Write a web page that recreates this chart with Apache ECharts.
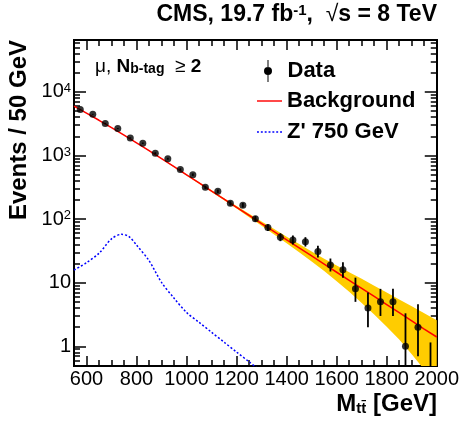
<!DOCTYPE html>
<html>
<head>
<meta charset="utf-8">
<script src="https://cdn.jsdelivr.net/npm/echarts@6/dist/echarts.min.js"></script>
<style>
html, body { margin: 0; padding: 0; background: #fff; }
#chart { width: 462px; height: 428px; }
</style>
</head>
<body>
<div id="chart"></div>
<script>
// data (bin centres, 50 GeV bins)
let massBins = [575, 625, 675, 725, 775, 825, 875, 925, 975, 1025, 1075, 1125, 1175, 1225, 1275,
    1325, 1375, 1425, 1475, 1525, 1575, 1625, 1675, 1725, 1775, 1825, 1875, 1925, 1975];
let dataCounts = [5300, 4450, 3200, 2650, 1890, 1560, 1090, 890, 605, 500, 316, 274, 177, 165, 101,
    74, 52, 47, 44, 31, 19, 16, 8, 4, 5, 5, 1, 2, 0];
let dataErrDown = [73, 67, 57, 51, 43, 39, 33, 30, 25, 22, 18, 17, 13, 13, 10,
    9, 7, 7, 7, 6, 4, 4, 3, 2, 2, 2, 0.83, 1.3, 0];
let dataErrUp = [73, 67, 57, 52, 44, 40, 34, 31, 25, 23, 19, 17, 14, 14, 11,
    9, 8, 8, 8, 7, 5, 5, 4, 3, 3, 3, 2.3, 2.6, 1.15];

// background fit and its uncertainty band
let bkgMass = [550, 600, 650, 700, 750, 800, 850, 900, 950, 1000, 1050, 1100, 1150, 1200, 1250,
    1300, 1350, 1400, 1450, 1500, 1550, 1600, 1650, 1700, 1750, 1800, 1850, 1900, 1950, 2000];
let bkgValues = [5957, 4634, 3581, 2748, 2094, 1585, 1193, 893, 667, 497, 370, 275, 205.6, 153.1, 114.3,
    85.1, 63.5, 47.3, 35.3, 26.3, 19.6, 14.6, 10.9, 8.13, 6.07, 4.52, 3.37, 2.51, 1.87, 1.40];
let bandLow = [5897, 4588, 3545, 2721, 2073, 1566, 1179, 880, 656, 487, 361, 267, 198.0, 146.2, 107.4,
    78.3, 57.2, 41.6, 30.0, 21.6, 15.3, 10.5, 7.19, 4.80, 3.16, 2.03, 1.28, 0.75, 0.43, 0.24];
let bandHigh = [6017, 4680, 3617, 2775, 2115, 1604, 1207, 906, 678, 507, 379, 283, 213.2, 160.0, 121.2,
    91.9, 69.9, 53.0, 40.6, 31.0, 23.9, 18.7, 14.6, 11.5, 8.98, 7.01, 5.46, 4.27, 3.31, 2.56];

// Z' 750 GeV signal shape
let zpMass = [550, 600, 650, 700, 740, 770, 800, 850, 900, 950, 1000, 1050, 1100, 1150, 1200, 1250, 1280];
let zpValues = [15.8, 20.6, 29, 49, 57.7, 53, 39, 22.2, 10.1, 5.7, 3.4, 2.38, 1.66, 1.16, 0.81, 0.57, 0.46];

// ticks
let xMajorTicks = [600, 800, 1000, 1200, 1400, 1600, 1800, 2000];
let xMinorTicks = [550, 600, 650, 700, 750, 800, 850, 900, 950, 1000, 1050, 1100, 1150, 1200, 1250, 1300,
    1350, 1400, 1450, 1500, 1550, 1600, 1650, 1700, 1750, 1800, 1850, 1900, 1950, 2000];
let yMajorTicks = [1, 10, 100, 1000, 10000];
let yMinorTicks = [0.5, 0.6, 0.7, 0.8, 0.9, 2, 3, 4, 5, 6, 7, 8, 9, 20, 30, 40, 50, 60, 70, 80, 90,
    200, 300, 400, 500, 600, 700, 800, 900, 2000, 3000, 4000, 5000, 6000, 7000, 8000, 9000,
    20000, 30000, 40000, 50000, 60000];

const xMin = 550, xMax = 2000;
const yMin = 0.49, yMax = 65500;
const FONT = 'Liberation Sans';

function xAxis(pos, ticks, len, labels) {
    return {
        type: 'value', gridIndex: 0, position: pos, min: xMin, max: xMax,
        axisLine: { show: true, onZero: false, lineStyle: { color: '#000', width: 2 } },
        axisTick: { show: true, inside: true, length: len, customValues: ticks, lineStyle: { color: '#000', width: 1.5 } },
        axisLabel: {
            show: labels, customValues: ticks, margin: 3, color: '#000', fontSize: 20, fontFamily: FONT,
            hideOverlap: false, showMaxLabel: true, showMinLabel: true,
            formatter: v => String(v)
        },
        splitLine: { show: false }
    };
}

function yAxis(pos, ticks, len, labels) {
    return {
        type: 'log', logBase: 10, gridIndex: 0, position: pos, min: yMin, max: yMax,
        axisLine: { show: true, onZero: false, lineStyle: { color: '#000', width: 2 } },
        axisTick: { show: true, inside: true, length: len, customValues: ticks, lineStyle: { color: '#000', width: 1.5 } },
        axisLabel: {
            show: labels, customValues: ticks, margin: 3, color: '#000', fontSize: 20, fontFamily: FONT,
            formatter: function (v) {
                if (v >= 100) return '{b|10}{s|' + Math.round(Math.log10(v)) + '}';
                return String(v);
            },
            rich: {
                b: { fontSize: 20, fontFamily: FONT, color: '#000', lineHeight: 20, padding: [4, 0, 0, 0], verticalAlign: 'bottom' },
                s: { fontSize: 13, fontFamily: FONT, color: '#000', lineHeight: 13, verticalAlign: 'top' }
            }
        },
        splitLine: { show: false }
    };
}

let dashIcon = 'path://M0,0 h2 v1.5 h-2 z M4,0 h2 v1.5 h-2 z M8,0 h2 v1.5 h-2 z M12,0 h2 v1.5 h-2 z '
    + 'M16,0 h2 v1.5 h-2 z M20,0 h2 v1.5 h-2 z M24,0 h2 v1.5 h-2 z';

let chart = echarts.init(document.getElementById('chart'));
chart.setOption({
    animation: false,
    backgroundColor: '#fff',
    grid: { left: 74, right: 24, top: 40, bottom: 62 },
    xAxis: [
        xAxis('bottom', xMajorTicks, 10, true),
        xAxis('bottom', xMinorTicks, 6, false),
        xAxis('top', xMajorTicks, 10, false),
        xAxis('top', xMinorTicks, 6, false)
    ],
    yAxis: [
        yAxis('left', yMajorTicks, 12, true),
        yAxis('left', yMinorTicks, 6, false),
        yAxis('right', yMajorTicks, 12, false),
        yAxis('right', yMinorTicks, 6, false)
    ],
    legend: [{
        orient: 'vertical', left: 264, top: 60, padding: 0, itemWidth: 9, itemHeight: 22,
        selectedMode: false,
        textStyle: { fontSize: 22, fontWeight: 'bold', fontFamily: FONT, color: '#000', padding: [0, 0, 0, 10] },
        data: [{ name: 'Data', icon: 'path://M4,0 H5 V22 H4 Z M0.5,11 A4,4 0 1 1 8.5,11 A4,4 0 1 1 0.5,11 Z' }]
    }, {
        orient: 'vertical', left: 257, top: 90, padding: 0, itemWidth: 25, itemHeight: 2, itemGap: 9,
        selectedMode: false,
        textStyle: { fontSize: 22, fontWeight: 'bold', fontFamily: FONT, color: '#000' },
        data: [
            { name: 'Background', icon: 'path://M0,0 H26 V1.5 H0 Z' },
            { name: "Z' 750 GeV", icon: dashIcon }
        ]
    }],
    graphic: [{
        type: 'text', x: 437, y: 3,
        style: {
            text: '{t|CMS, 19.7 fb}{s|-1}{t|,  }{r|\u221A}{t|s = 8 TeV}',
            align: 'right', verticalAlign: 'top',
            rich: {
                t: { fontSize: 23, fontWeight: 'bold', fontFamily: FONT, fill: '#000', lineHeight: 23, padding: [4, 0, 0, 0], verticalAlign: 'bottom' },
                r: { fontSize: 23, fontFamily: FONT, fill: '#000', lineHeight: 23, padding: [4, 0, 0, 0], verticalAlign: 'bottom' },
                s: { fontSize: 15, fontWeight: 'bold', fontFamily: FONT, fill: '#000', lineHeight: 15, verticalAlign: 'top' }
            }
        }
    }, {
        type: 'text', x: 95, y: 57,
        style: {
            text: '{m|\u03BC, }{b|N}{s|b-tag}{m|  \u2265 }{b|2}',
            align: 'left', verticalAlign: 'top',
            rich: {
                m: { fontSize: 19, fontFamily: FONT, fill: '#000', lineHeight: 19, verticalAlign: 'top' },
                b: { fontSize: 19, fontWeight: 'bold', fontFamily: FONT, fill: '#000', lineHeight: 19, verticalAlign: 'top' },
                s: { fontSize: 14, fontWeight: 'bold', fontFamily: FONT, fill: '#000', lineHeight: 14, padding: [10, 0, 0, 0], verticalAlign: 'bottom' }
            }
        }
    }, {
        type: 'text', x: 19, y: 40, rotation: Math.PI / 2,
        style: {
            text: 'Events / 50 GeV', align: 'right', verticalAlign: 'middle',
            fontSize: 24, fontWeight: 'bold', fontFamily: FONT, fill: '#000'
        }
    }, {
        type: 'text', x: 437, y: 392,
        style: {
            text: '{b|M}{s|tt\u0304}{b| [GeV]}',
            align: 'right', verticalAlign: 'top',
            rich: {
                b: { fontSize: 24, fontWeight: 'bold', fontFamily: FONT, fill: '#000', lineHeight: 24, verticalAlign: 'top' },
                s: { fontSize: 15, fontWeight: 'bold', fontFamily: FONT, fill: '#000', lineHeight: 15, padding: [18, 0, 0, 0], verticalAlign: 'bottom' }
            }
        }
    }],
    series: [{
        // uncertainty band on the background
        type: 'custom', name: 'band', xAxisIndex: 0, yAxisIndex: 0, clip: true, silent: true, z: 1,
        data: [[bkgMass[0], bandHigh[0]]],
        renderItem: function (params, api) {
            let pts = [];
            for (let i = 0; i < bkgMass.length; i++) pts.push(api.coord([bkgMass[i], bandHigh[i]]));
            for (let i = bkgMass.length - 1; i >= 0; i--) pts.push(api.coord([bkgMass[i], bandLow[i]]));
            return { type: 'polygon', shape: { points: pts }, style: { fill: '#ffcc00' } };
        }
    }, {
        type: 'line', name: 'Background', xAxisIndex: 0, yAxisIndex: 0, z: 2,
        data: bkgMass.map((m, i) => [m, bkgValues[i]]),
        symbol: 'none', showSymbol: false, clip: true,
        itemStyle: { color: '#ff0000' },
        lineStyle: { color: '#ff0000', width: 1.5 }
    }, {
        type: 'line', name: "Z' 750 GeV", xAxisIndex: 0, yAxisIndex: 0, z: 2,
        data: zpMass.map((m, i) => [m, zpValues[i]]),
        symbol: 'none', showSymbol: false, smooth: 0.3, clip: true,
        itemStyle: { color: '#0000ff' },
        lineStyle: { color: '#0000ff', width: 1.5, type: [2, 2] }
    }, {
        // data error bars
        type: 'custom', name: 'Data', xAxisIndex: 0, yAxisIndex: 0, clip: true, silent: true, z: 3,
        encode: { x: 0, y: 3 },
        itemStyle: { color: '#000' },
        data: massBins.map((m, i) => [m, dataCounts[i], dataCounts[i] - dataErrDown[i], dataCounts[i] + dataErrUp[i]]),
        renderItem: function (params, api) {
            let lo = Math.max(api.value(2), yMin * 0.5);
            let p1 = api.coord([api.value(0), lo]);
            let p2 = api.coord([api.value(0), api.value(3)]);
            return {
                type: 'line',
                shape: { x1: p1[0], y1: p1[1], x2: p2[0], y2: p2[1] },
                style: { stroke: '#000', lineWidth: 1.8 }
            };
        }
    }, {
        type: 'scatter', name: 'Data', xAxisIndex: 0, yAxisIndex: 0, z: 4,
        data: massBins.map((m, i) => [m, dataCounts[i]]).filter(d => d[1] > 0),
        symbol: 'circle', symbolSize: 7, clip: true,
        itemStyle: { color: '#000' }
    }]
});
</script>
</body>
</html>
